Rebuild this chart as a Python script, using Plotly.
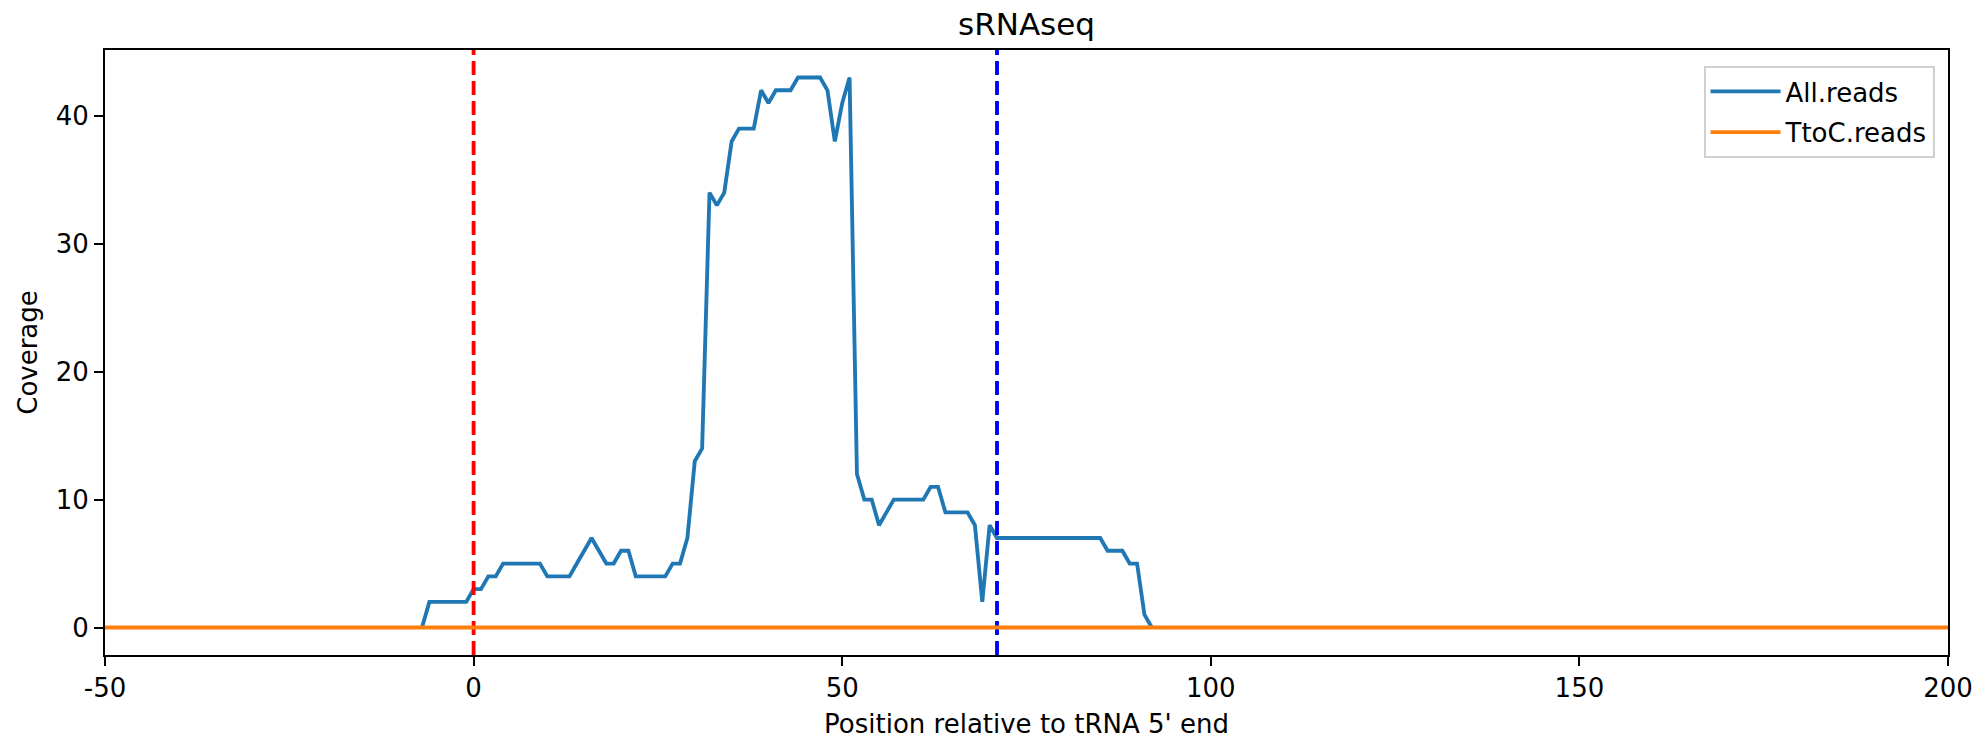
import plotly.graph_objects as go

# ---- data ----
positions = list(range(-7, 93))
all_reads = [
    0,                      # -7
    2, 2, 2, 2, 2, 2,       # -6..-1
    3, 3, 4, 4,             # 0..3
    5, 5, 5, 5, 5, 5,       # 4..9
    4, 4, 4, 4,             # 10..13
    5, 6, 7, 6, 5, 5, 6, 6, # 14..21
    4, 4, 4, 4, 4,          # 22..26
    5, 5, 7, 13, 14,        # 27..31
    34, 33, 34, 38, 39, 39, 39, 42, 41, 42, 42, 42,  # 32..43
    43, 43, 43, 43, 42, 38, 41, 43,                  # 44..51
    12, 10, 10, 8, 9,       # 52..56
    10, 10, 10, 10, 10,     # 57..61
    11, 11,                 # 62..63
    9, 9, 9, 9,             # 64..67
    8, 2, 8,                # 68..70
    7, 7, 7, 7, 7, 7, 7, 7, 7, 7, 7, 7, 7, 7, 7,  # 71..85
    6, 6, 6,                # 86..88
    5, 5, 1, 0,             # 89..92
]
ttoc_positions = list(range(-50, 201))
ttoc_reads = [0 for _ in ttoc_positions]

start_line_x = 0      # tRNA 5' end (red dashed)
end_line_x = 71       # tRNA 3' end (blue dashed)

x_range = [-50, 200]
y_range = [-2.15, 45.15]
x_tickvals = [-50, 0, 50, 100, 150, 200]
x_ticktext = ["-50", "0", "50", "100", "150", "200"]
y_tickvals = [0, 10, 20, 30, 40]

# ---- figure ----
FONT = "DejaVu Sans"
LW = 3.85

fig = go.Figure()
fig.add_trace(go.Scatter(x=positions, y=all_reads, mode="lines", name="All.reads",
                         legendgroup="a",
                         line=dict(color="#1f77b4", width=LW)))
fig.add_trace(go.Scatter(x=[start_line_x, start_line_x], y=y_range, mode="lines",
                         showlegend=False, hoverinfo="skip",
                         line=dict(color="#ff0000", width=LW, dash="14px,6px")))
fig.add_trace(go.Scatter(x=[end_line_x, end_line_x], y=y_range, mode="lines",
                         showlegend=False, hoverinfo="skip",
                         line=dict(color="#0000ff", width=LW, dash="14px,6px")))
fig.add_trace(go.Scatter(x=ttoc_positions, y=ttoc_reads, mode="lines", name="TtoC.reads",
                         legendgroup="b",
                         line=dict(color="#ff7f0e", width=LW)))

axis_common = dict(
    showgrid=False, zeroline=False, showline=True, linecolor="black", linewidth=2,
    mirror=True, ticks="outside", ticklen=9, tickwidth=2, tickcolor="black",
    tickfont=dict(family=FONT, size=26, color="black"),
    ticklabeloverflow="allow",
)

W, H = 1979, 739
L, R, T, B = 105, 31, 50, 84

fig.update_layout(
    width=W, height=H,
    margin=dict(l=L, r=R, t=T, b=B, autoexpand=False),
    paper_bgcolor="white", plot_bgcolor="white",
    font=dict(family=FONT, size=26, color="black"),
    title=dict(text="sRNAseq", x=(L + (W - L - R) / 2) / W, xanchor="center",
               y=1 - 24 / H, yanchor="middle",
               font=dict(family=FONT, size=31, color="black")),
    xaxis=dict(range=x_range, tickvals=x_tickvals, ticktext=x_ticktext,
               title=dict(text="Position relative to tRNA 5' end", standoff=21,
                          font=dict(family=FONT, size=26)),
               ticklabelstandoff=0, **axis_common),
    yaxis=dict(range=y_range, tickvals=y_tickvals,
               title=dict(text="Coverage", standoff=11, font=dict(family=FONT, size=26)),
               ticklabelstandoff=0, **axis_common),
    legend=dict(x=0.9927, xanchor="right", y=0.9736, yanchor="top",
                bgcolor="white", bordercolor="#d0d0d0", borderwidth=2,
                itemwidth=70, tracegroupgap=4,
                font=dict(family=FONT, size=26, color="black")),
    showlegend=True,
)

# remove the default 8px page margin so the figure fills the window exactly
fig.write_html("out.html", config={"displayModeBar": False},
               post_script="document.body.style.margin='0px';")
